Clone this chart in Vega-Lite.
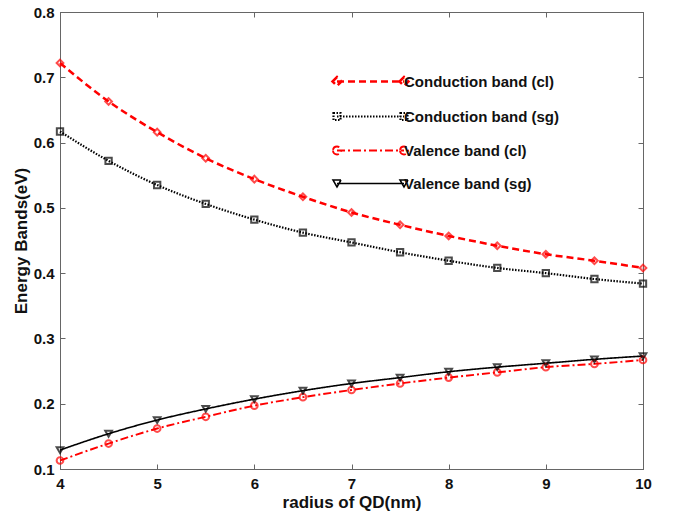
{
  "$schema": "https://vega.github.io/schema/vega-lite/v6.json",
  "width": 583,
  "height": 457,
  "autosize": {"type": "none"},
  "padding": {"left": 60, "top": 12, "right": 34, "bottom": 47},
  "background": "white",
  "datasets": {
    "bands": [
      {"r": 4, "series": "Conduction band (cl)", "E": 0.722},
      {"r": 4.5, "series": "Conduction band (cl)", "E": 0.663},
      {"r": 5, "series": "Conduction band (cl)", "E": 0.616},
      {"r": 5.5, "series": "Conduction band (cl)", "E": 0.576},
      {"r": 6, "series": "Conduction band (cl)", "E": 0.544},
      {"r": 6.5, "series": "Conduction band (cl)", "E": 0.517},
      {"r": 7, "series": "Conduction band (cl)", "E": 0.493},
      {"r": 7.5, "series": "Conduction band (cl)", "E": 0.474},
      {"r": 8, "series": "Conduction band (cl)", "E": 0.457},
      {"r": 8.5, "series": "Conduction band (cl)", "E": 0.442},
      {"r": 9, "series": "Conduction band (cl)", "E": 0.429},
      {"r": 9.5, "series": "Conduction band (cl)", "E": 0.419},
      {"r": 10, "series": "Conduction band (cl)", "E": 0.408},
      {"r": 4, "series": "Conduction band (sg)", "E": 0.617},
      {"r": 4.5, "series": "Conduction band (sg)", "E": 0.572},
      {"r": 5, "series": "Conduction band (sg)", "E": 0.535},
      {"r": 5.5, "series": "Conduction band (sg)", "E": 0.506},
      {"r": 6, "series": "Conduction band (sg)", "E": 0.482},
      {"r": 6.5, "series": "Conduction band (sg)", "E": 0.462},
      {"r": 7, "series": "Conduction band (sg)", "E": 0.447},
      {"r": 7.5, "series": "Conduction band (sg)", "E": 0.432},
      {"r": 8, "series": "Conduction band (sg)", "E": 0.419},
      {"r": 8.5, "series": "Conduction band (sg)", "E": 0.408},
      {"r": 9, "series": "Conduction band (sg)", "E": 0.400},
      {"r": 9.5, "series": "Conduction band (sg)", "E": 0.391},
      {"r": 10, "series": "Conduction band (sg)", "E": 0.384},
      {"r": 4, "series": "Valence band (cl)", "E": 0.113},
      {"r": 4.5, "series": "Valence band (cl)", "E": 0.139},
      {"r": 5, "series": "Valence band (cl)", "E": 0.162},
      {"r": 5.5, "series": "Valence band (cl)", "E": 0.180},
      {"r": 6, "series": "Valence band (cl)", "E": 0.197},
      {"r": 6.5, "series": "Valence band (cl)", "E": 0.210},
      {"r": 7, "series": "Valence band (cl)", "E": 0.221},
      {"r": 7.5, "series": "Valence band (cl)", "E": 0.231},
      {"r": 8, "series": "Valence band (cl)", "E": 0.240},
      {"r": 8.5, "series": "Valence band (cl)", "E": 0.248},
      {"r": 9, "series": "Valence band (cl)", "E": 0.256},
      {"r": 9.5, "series": "Valence band (cl)", "E": 0.261},
      {"r": 10, "series": "Valence band (cl)", "E": 0.267},
      {"r": 4, "series": "Valence band (sg)", "E": 0.129},
      {"r": 4.5, "series": "Valence band (sg)", "E": 0.154},
      {"r": 5, "series": "Valence band (sg)", "E": 0.175},
      {"r": 5.5, "series": "Valence band (sg)", "E": 0.192},
      {"r": 6, "series": "Valence band (sg)", "E": 0.207},
      {"r": 6.5, "series": "Valence band (sg)", "E": 0.220},
      {"r": 7, "series": "Valence band (sg)", "E": 0.231},
      {"r": 7.5, "series": "Valence band (sg)", "E": 0.240},
      {"r": 8, "series": "Valence band (sg)", "E": 0.249},
      {"r": 8.5, "series": "Valence band (sg)", "E": 0.256},
      {"r": 9, "series": "Valence band (sg)", "E": 0.262},
      {"r": 9.5, "series": "Valence band (sg)", "E": 0.268},
      {"r": 10, "series": "Valence band (sg)", "E": 0.273}
    ]
  },
  "data": {"name": "bands"},
  "config": {
    "view": {"stroke": "#666", "strokeWidth": 1},
    "font": "Liberation Sans",
    "axis": {
      "domainColor": "#666",
      "tickColor": "#666",
      "grid": false,
      "labelFont": "Liberation Sans",
      "labelFontWeight": "bold",
      "labelFontSize": 15,
      "labelColor": "#111",
      "titleFont": "Liberation Sans",
      "titleFontWeight": "bold",
      "titleFontSize": 17,
      "titleColor": "#111",
      "tickSize": -5
    },
    "legend": {
      "labelFont": "Liberation Sans",
      "labelFontWeight": "bold",
      "labelFontSize": 15,
      "labelColor": "#111",
      "labelLimit": 0
    }
  },
  "layer": [
    {
      "mark": {"type": "line", "interpolate": "monotone"},
      "encoding": {
        "x": {
          "field": "r",
          "type": "quantitative",
          "scale": {"domain": [4, 10], "nice": false, "zero": false},
          "axis": {"title": "radius of QD(nm)", "values": [4, 5, 6, 7, 8, 9, 10], "labelPadding": 12, "titlePadding": 3, "labelFlush": false}
        },
        "y": {
          "field": "E",
          "type": "quantitative",
          "scale": {"domain": [0.1, 0.8], "nice": false, "zero": false},
          "axis": {"title": "Energy Bands(eV)", "values": [0.1, 0.2, 0.3, 0.4, 0.5, 0.6, 0.7, 0.8], "format": ".1f", "labelPadding": 11, "titlePadding": 3, "labelFlush": false}
        },
        "color": {
          "field": "series",
          "type": "nominal",
          "scale": {
            "domain": ["Conduction band (cl)", "Conduction band (sg)", "Valence band (cl)", "Valence band (sg)"],
            "range": ["#ff0000", "#000000", "#ff0000", "#000000"]
          },
          "legend": {
            "title": null,
            "orient": "none",
            "legendX": 303,
            "legendY": 62,
            "symbolType": "stroke",
            "symbolSize": 100,
            "symbolStrokeWidth": 2,
            "labelOffset": 26,
            "rowPadding": 17,
            "labelLimit": 0,
            "encode": {
              "symbols": {
                "update": {
                  "fill": {"value": "transparent"},
                  "shape": {"signal": "datum.value === 'Conduction band (cl)' ? 'M-6.7,0H6.7M-7.6,0L-6.7,-0.9L-5.8,0L-6.7,0.9ZM5.8,0L6.7,-0.9L7.6,0L6.7,0.9Z' : datum.value === 'Conduction band (sg)' ? 'M-6.7,0H6.7M-7.4,-0.7H-6V0.7H-7.4ZM6,-0.7H7.4V0.7H6Z' : datum.value === 'Valence band (cl)' ? 'M-6.7,0H6.7M-7.5,0A0.8,0.8 0 1,0 -5.9,0A0.8,0.8 0 1,0 -7.5,0ZM5.9,0A0.8,0.8 0 1,0 7.5,0A0.8,0.8 0 1,0 5.9,0Z' : 'M-6.7,0H6.7M-7.5,-0.7L-5.9,-0.7L-6.7,0.7ZM5.9,-0.7L7.5,-0.7L6.7,0.7Z'"}
                }
              }
            }
          }
        },
        "strokeDash": {
          "field": "series",
          "type": "nominal",
          "scale": {
            "domain": ["Conduction band (cl)", "Conduction band (sg)", "Valence band (cl)", "Valence band (sg)"],
            "range": [[7, 4], [1.5, 1.5], [8, 3, 2, 3], [1, 0]]
          }
        },
        "strokeWidth": {
          "field": "series",
          "type": "nominal",
          "scale": {
            "domain": ["Conduction band (cl)", "Conduction band (sg)", "Valence band (cl)", "Valence band (sg)"],
            "range": [2.5, 1.6, 2.3, 2.5]
          },
          "legend": null
        }
      }
    },
    {
      "transform": [{"filter": "datum.series === 'Conduction band (cl)'"}],
      "mark": {"type": "point", "filled": false, "strokeWidth": 2, "size": 45, "shape": "diamond", "color": "#ff0000"},
      "encoding": {
        "x": {"field": "r", "type": "quantitative", "axis": null},
        "y": {"field": "E", "type": "quantitative", "axis": null}
      }
    },
    {
      "transform": [{"filter": "datum.series === 'Conduction band (sg)'"}],
      "mark": {"type": "point", "filled": false, "strokeWidth": 2, "size": 40, "shape": "square", "color": "#000000"},
      "encoding": {
        "x": {"field": "r", "type": "quantitative", "axis": null},
        "y": {"field": "E", "type": "quantitative", "axis": null}
      }
    },
    {
      "transform": [{"filter": "datum.series === 'Valence band (cl)'"}],
      "mark": {"type": "point", "filled": false, "strokeWidth": 2, "size": 45, "shape": "circle", "color": "#ff0000"},
      "encoding": {
        "x": {"field": "r", "type": "quantitative", "axis": null},
        "y": {"field": "E", "type": "quantitative", "axis": null}
      }
    },
    {
      "transform": [{"filter": "datum.series === 'Valence band (sg)'"}],
      "mark": {"type": "point", "filled": false, "strokeWidth": 2, "size": 45, "shape": "triangle-down", "color": "#000000"},
      "encoding": {
        "x": {"field": "r", "type": "quantitative", "axis": null},
        "y": {"field": "E", "type": "quantitative", "axis": null}
      }
    },
    {
      "mark": {"type": "point", "opacity": 0},
      "encoding": {
        "x": {
          "field": "r",
          "type": "quantitative",
          "axis": {"orient": "top", "labels": false, "title": null, "values": [4, 5, 6, 7, 8, 9, 10]}
        },
        "y": {
          "field": "E",
          "type": "quantitative",
          "axis": {"orient": "right", "labels": false, "title": null, "values": [0.1, 0.2, 0.3, 0.4, 0.5, 0.6, 0.7, 0.8]}
        }
      }
    }
  ],
  "resolve": {"axis": {"x": "independent", "y": "independent"}}
}
